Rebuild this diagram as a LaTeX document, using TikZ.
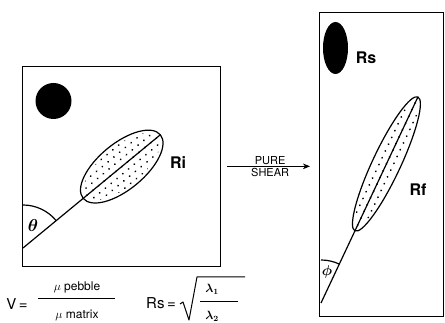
\documentclass[tikz,border=0pt]{standalone}
\usepackage{amsmath,bm}
\usepackage{fontspec}
\setsansfont{TeX Gyre Heros}
\usetikzlibrary{arrows.meta,calc}

\begin{document}
\begin{tikzpicture}[x=1pt, y=1pt,
  frame/.style={draw, line width=1.3pt, inner sep=0pt, anchor=south west},
  grain/.style={line width=1.2pt},
  lbl/.style={font=\sffamily\bfseries\fontsize{16}{16}\selectfont, inner sep=0pt},
  shear/.style={font=\sffamily\fontsize{11}{11}\selectfont, inner sep=1.5pt},
  eqbig/.style={font=\sffamily\fontsize{15}{15}\selectfont, inner sep=0pt},
  eqsmall/.style={font=\sffamily\fontsize{12}{12}\selectfont, inner sep=0pt},
  arrow/.style={-{Stealth[length=2.5mm, width=2mm]}, line width=0.9pt},
]
\useasboundingbox (0,0) rectangle (445,323);
\clip (0,0) rectangle (445,323);

% Initial state
\node[frame, minimum width=198pt, minimum height=200pt] (before) at (22,56) {};
\fill (53.5,222) circle (18);
\coordinate (oi) at (23,75);
\coordinate (ci) at ($(oi)+(39.5:128)$);
\coordinate (ti) at ($(oi)+(39.5:178)$);
\begin{scope}[shift={(ci)}, rotate=39.5]
  \clip (0,0) ellipse [x radius=47, y radius=20];
  \foreach \j in {-3,...,3}
    \foreach \i in {-7,...,7}
      \fill ({\i*7.5+3.75*mod(abs(\j),2)},{\j*6.2}) circle (1);
\end{scope}
\draw[grain, rotate around={39.5:(ci)}] (ci) ellipse [x radius=50, y radius=23];
\draw[grain] (oi) -- (ti);
\draw[grain] (oi) ++(0,43) arc[start angle=90, end angle=39.5, radius=43];
\node[font=\fontsize{17}{17}\selectfont] (theta) at (33,97) {$\bm{\theta}$};
\node[lbl] (ri) at (178,160) {Ri};

% Pure shear arrow
\node[frame, minimum width=124pt, minimum height=304pt] (after) at (319,6) {};
\draw[arrow, shorten <=6pt, shorten >=9pt] (before.east) -- (before.east -| after.west)
  node[midway, above, shear] {PURE} node[midway, below, shear] {SHEAR};

% Final state
\fill (335.5,275) ellipse [x radius=12.5, y radius=26];
\node[lbl] (rs) at (366,265) {Rs};
\coordinate (of) at (321,20);
\coordinate (cf) at ($(of)+(64.8:153.7)$);
\coordinate (tf) at ($(of)+(64.8:227.7)$);
\begin{scope}[shift={(cf)}, rotate=64.8]
  \clip (0,0) ellipse [x radius=71, y radius=11.5];
  \foreach \j in {-1,0,1}
    \foreach \i in {-10,...,10}
      \fill ({\i*7.5+3.75*mod(abs(\j),2)},{\j*6.5}) circle (1);
\end{scope}
\draw[grain, rotate around={64.8:(cf)}] (cf) ellipse [x radius=74, y radius=14];
\draw[grain] (of) -- (tf);
\draw[grain] (of) ++(0,43) arc[start angle=90, end angle=64.8, radius=43];
\node[font=\fontsize{15}{15}\selectfont] (phi) at (327,51) {$\bm{\phi}$};
\node[lbl] (rf) at (418,133) {Rf};

% Definitions
\node[eqbig] (v) at (17,19) {V\,=};
\node[eqsmall] (num) at (77,36) {$\mu$ pebble};
\node[eqsmall] (den) at (77,8) {$\mu$ matrix};
\draw[line width=1pt] (38,24) -- (115,24);
\node[eqbig] (rsdef) at (161,20) {Rs\,=};
\draw[line width=1pt, line join=round] (180,19) -- (183,21) -- (189,3) -- (197,46) -- (245,46);
\node[eqsmall] (l1) at (212,34) {$\bm{\lambda_1}$};
\node[eqsmall] (l2) at (212,7) {$\bm{\lambda_2}$};
\draw[line width=1pt] (200,21) -- (238,21);

\end{tikzpicture}
\end{document}
